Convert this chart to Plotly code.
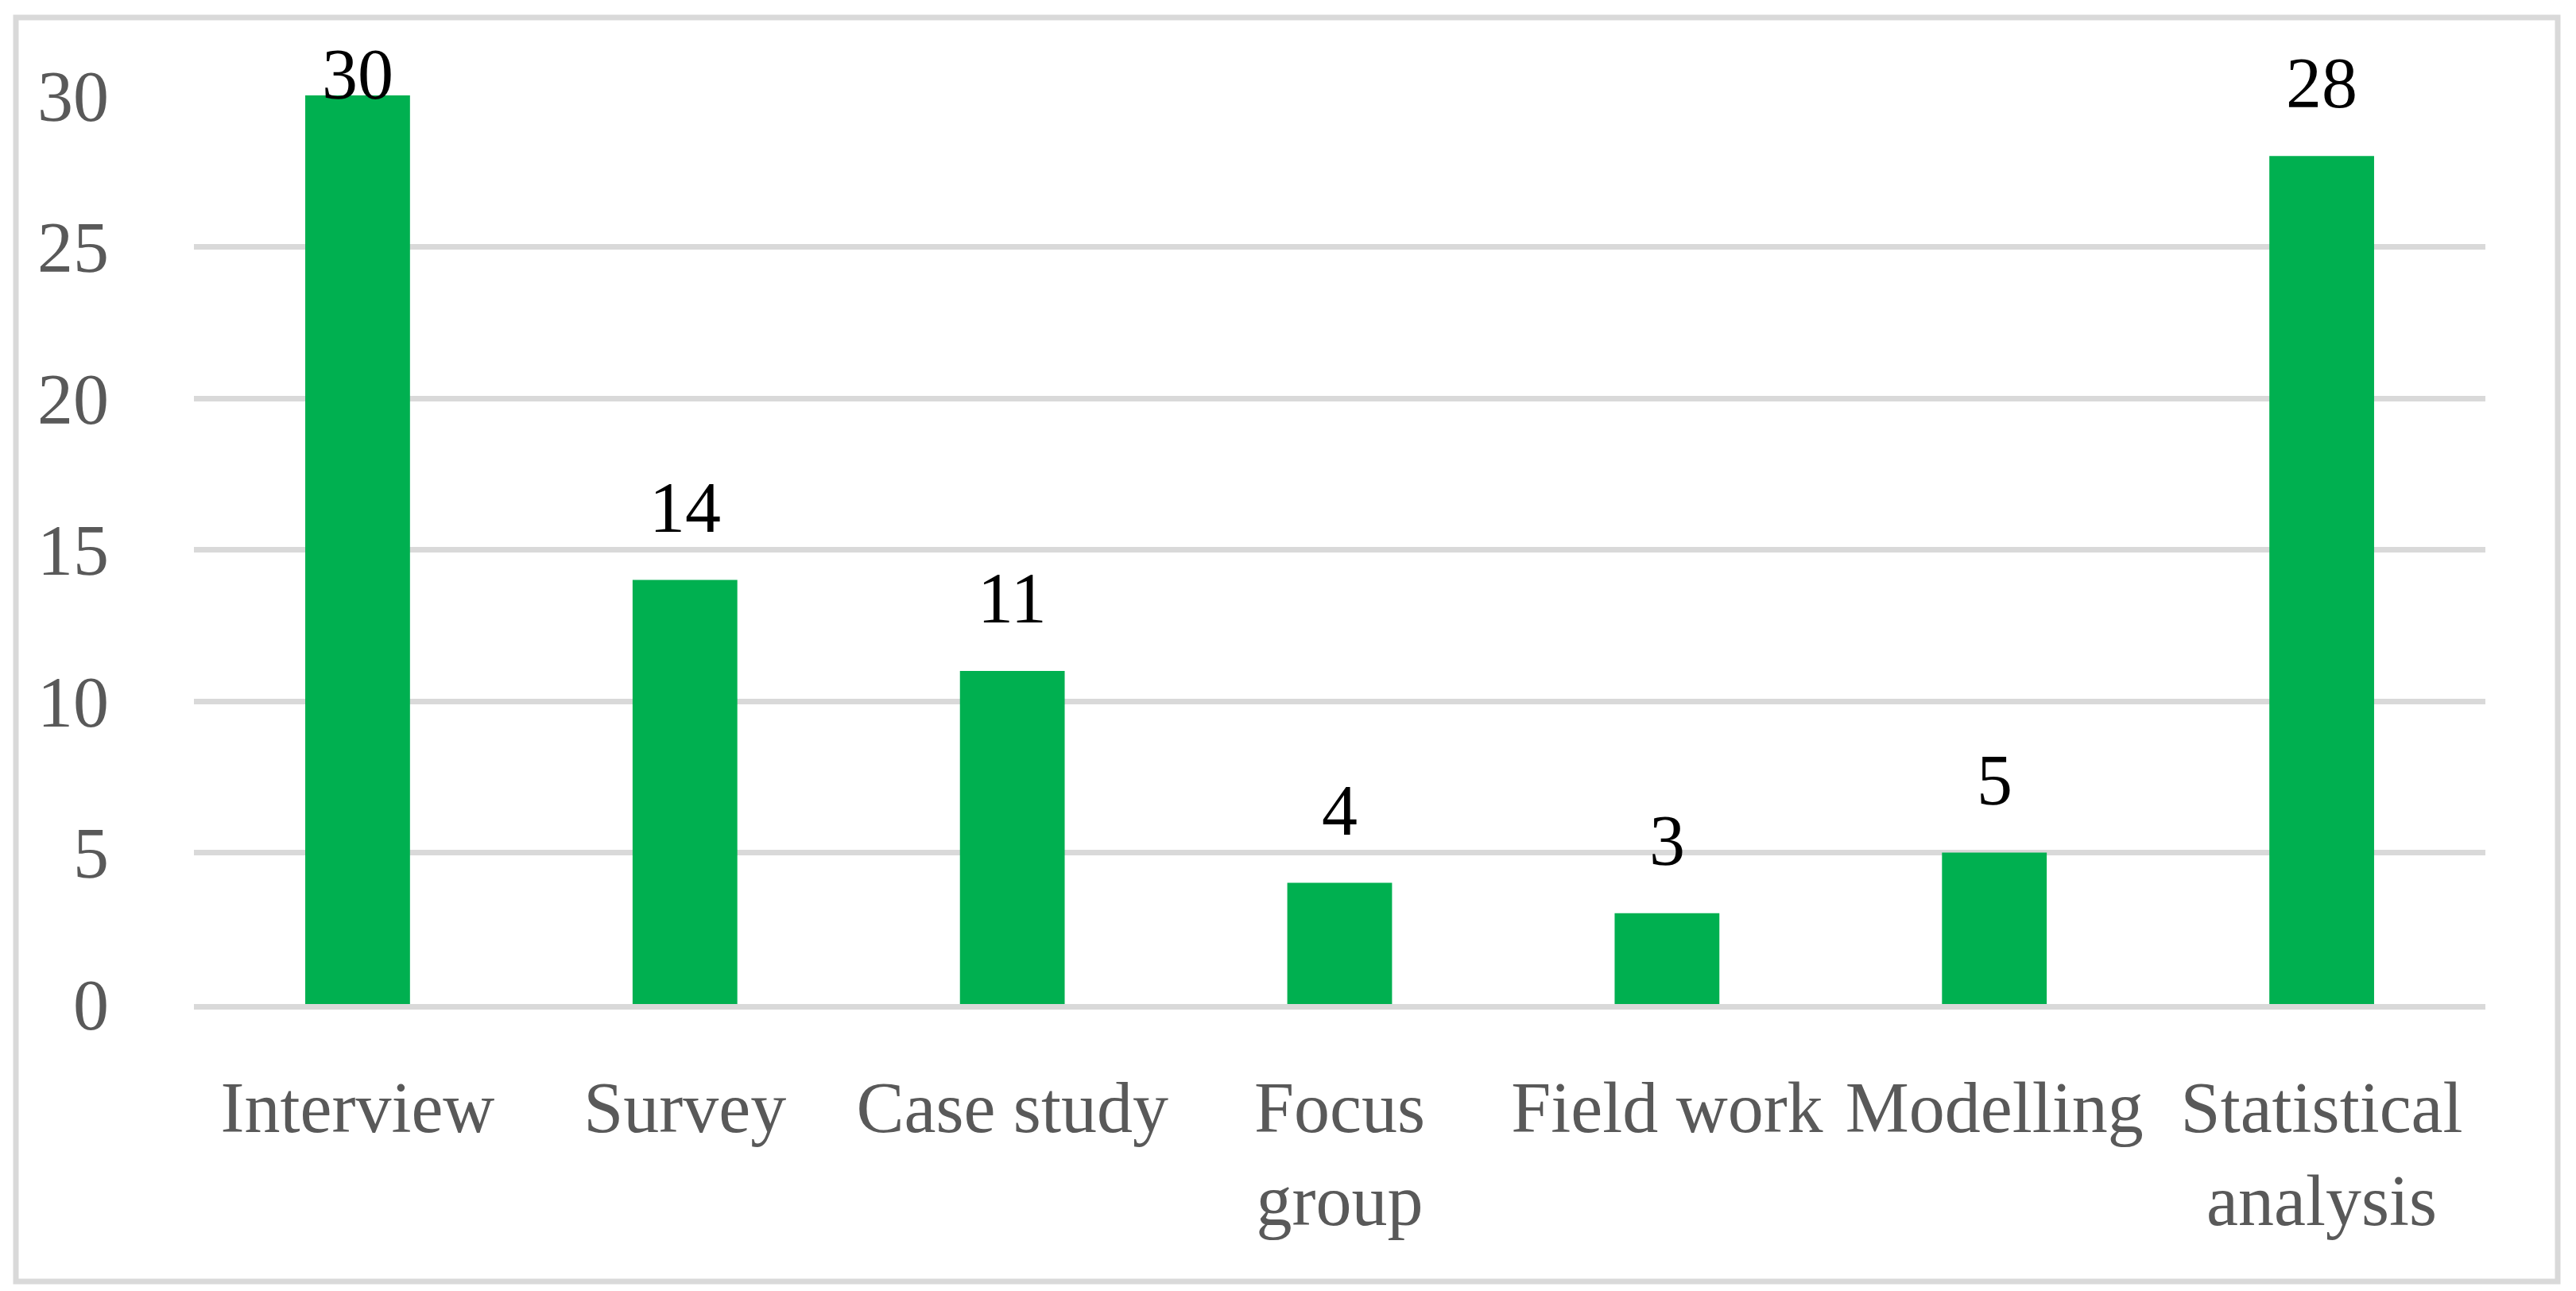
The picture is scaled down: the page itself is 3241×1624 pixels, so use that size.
import plotly.graph_objects as go

# ---- data ----
categories = ["Interview", "Survey", "Case study", "Focus<br>group",
              "Field work", "Modelling", "Statistical<br>analysis"]
counts = [30, 14, 11, 4, 3, 5, 28]
y_ticks = [0, 5, 10, 15, 20, 25, 30]

# ---- style / geometry (page body has an 8px margin) ----
OFF = 8
W, H = 3241 - 2 * OFF, 1624 - 2 * OFF
ML, MT = 244 - OFF, 120 - OFF
MR = W + OFF - 3127
MB = H + OFF - 1263
FONT = "Liberation Serif"
FS = 90
YMAX = 30
GREEN = "#00b050"
GRID = "#d9d9d9"
TICK = "#595959"

fig = go.Figure(go.Bar(
    x=categories, y=counts, marker_color=GREEN, marker_line_width=0,
    width=0.32, hoverinfo="skip", showlegend=False,
))

# data labels above bars (kept inside chart frame like Excel does)
plot_h = H - MT - MB
digit_h = 0.676 * FS
gap_px = 61
desc_px = 21
for c, v in zip(categories, counts):
    bar_top = MT + plot_h * (1 - v / YMAX)
    baseline = max(bar_top - gap_px, 55 + digit_h)
    shift = bar_top - baseline - desc_px
    fig.add_annotation(x=c, y=v, text=str(v), showarrow=False,
                       yanchor="bottom", yshift=shift,
                       font=dict(family=FONT, size=FS, color="#000000"))

# outer chart border
plot_w = W - ML - MR
def px_x(p):
    return (p - OFF - ML) / plot_w
def px_y(p):
    return 1 - (p - OFF - MT) / plot_h
fig.add_shape(type="rect", xref="paper", yref="paper",
              x0=px_x(20), x1=px_x(3218), y0=px_y(1612), y1=px_y(22),
              line=dict(color=GRID, width=7), fillcolor="rgba(0,0,0,0)",
              layer="below")

fig.update_layout(
    width=W, height=H,
    margin=dict(l=ML, r=MR, t=MT, b=MB),
    paper_bgcolor="white", plot_bgcolor="white",
    font=dict(family=FONT, size=FS, color=TICK),
)
fig.update_xaxes(
    showgrid=False, showline=True, linecolor=GRID, linewidth=7,
    ticks="outside", ticklen=46, tickcolor="rgba(0,0,0,0)",
    tickfont=dict(family=FONT, size=FS, color=TICK),
    fixedrange=True,
)
fig.update_yaxes(
    range=[0, YMAX], tickvals=y_ticks, showgrid=True, gridcolor=GRID,
    gridwidth=7, zeroline=False, showline=False,
    ticks="outside", ticklen=88, tickcolor="rgba(0,0,0,0)",
    tickfont=dict(family=FONT, size=FS, color=TICK),
    fixedrange=True,
)

fig.write_html("out.html")
